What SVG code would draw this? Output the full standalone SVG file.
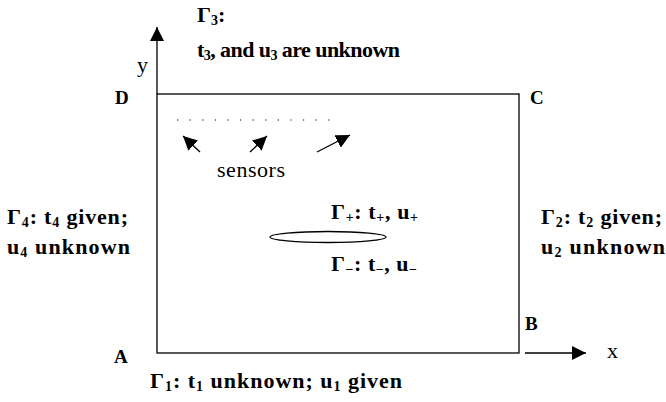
<svg xmlns="http://www.w3.org/2000/svg" width="666" height="402" viewBox="0 0 666 402">
<defs>
<marker id="ahL" viewBox="0 0 14 14" refX="14" refY="7" markerWidth="14" markerHeight="14" markerUnits="userSpaceOnUse" orient="auto">
<path d="M0,0 L14,7 L0,14 z" fill="#000"/>
</marker>
</defs>
<style>
text{font-family:"Liberation Serif","Times New Roman","DejaVu Serif",serif;font-size:22px;fill:#000}
.b{font-weight:bold}
.c{font-size:19px}
.s{font-size:14px}
.ln{stroke:#000;stroke-width:1.3;fill:none}
</style>
<rect width="666" height="402" fill="#fff"/>
<g id="domain">
<rect x="157" y="94" width="362" height="259" class="ln"/>
</g>
<g id="connectors">
<line x1="157" y1="94" x2="157" y2="27" class="ln" marker-end="url(#ahL)"/>
<line x1="525" y1="353" x2="586" y2="353" class="ln" marker-end="url(#ahL)"/>
<line x1="200" y1="152" x2="183" y2="136" class="ln" marker-end="url(#ahL)"/>
<line x1="250" y1="152" x2="267" y2="136" class="ln" marker-end="url(#ahL)"/>
<line x1="317" y1="152" x2="350" y2="135" class="ln" marker-end="url(#ahL)"/>
</g>
<g id="sensors-dots">
<line x1="177" y1="120" x2="340" y2="120" stroke="#000" stroke-width="1.2" stroke-dasharray="1.2 11.4"/>
</g>
<g id="crack">
<ellipse cx="328" cy="237" rx="58" ry="5.5" class="ln"/>
</g>
<g id="labels">
<text x="197" y="22" class="b">Γ<tspan class="s" dy="3">3</tspan><tspan dy="-3">:</tspan></text>
<text x="197" y="57" class="b" textLength="203">t<tspan class="s" dy="3">3</tspan><tspan dy="-3">, and u</tspan><tspan class="s" dy="3">3</tspan><tspan dy="-3"> are unknown</tspan></text>
<text x="137" y="72">y</text>
<text x="115" y="104" class="b c">D</text>
<text x="530" y="104" class="b c">C</text>
<text x="217" y="177" textLength="68">sensors</text>
<text x="7" y="224" class="b" textLength="121">Γ<tspan class="s" dy="3">4</tspan><tspan dy="-3">: t</tspan><tspan class="s" dy="3">4</tspan><tspan dy="-3"> given;</tspan></text>
<text x="7" y="254" class="b" textLength="123">u<tspan class="s" dy="3">4</tspan><tspan dy="-3"> unknown</tspan></text>
<text x="541" y="224" class="b" textLength="121">Γ<tspan class="s" dy="3">2</tspan><tspan dy="-3">: t</tspan><tspan class="s" dy="3">2</tspan><tspan dy="-3"> given;</tspan></text>
<text x="541" y="254" class="b" textLength="124">u<tspan class="s" dy="3">2</tspan><tspan dy="-3"> unknown</tspan></text>
<text x="331" y="219" class="b" textLength="87">Γ<tspan class="s" dy="3">+</tspan><tspan dy="-3">: t</tspan><tspan class="s" dy="3">+</tspan><tspan dy="-3">, u</tspan><tspan class="s" dy="3">+</tspan></text>
<text x="331" y="271" class="b" textLength="86">Γ<tspan class="s" dy="3">−</tspan><tspan dy="-3">: t</tspan><tspan class="s" dy="3">−</tspan><tspan dy="-3">, u</tspan><tspan class="s" dy="3">−</tspan></text>
<text x="525" y="330" class="b c">B</text>
<text x="114" y="363" class="b c">A</text>
<text x="607" y="358">x</text>
<text x="150" y="388" class="b" textLength="252">Γ<tspan class="s" dy="3">1</tspan><tspan dy="-3">:  t</tspan><tspan class="s" dy="3">1</tspan><tspan dy="-3"> unknown; u</tspan><tspan class="s" dy="3">1</tspan><tspan dy="-3"> given</tspan></text>
</g>
</svg>
